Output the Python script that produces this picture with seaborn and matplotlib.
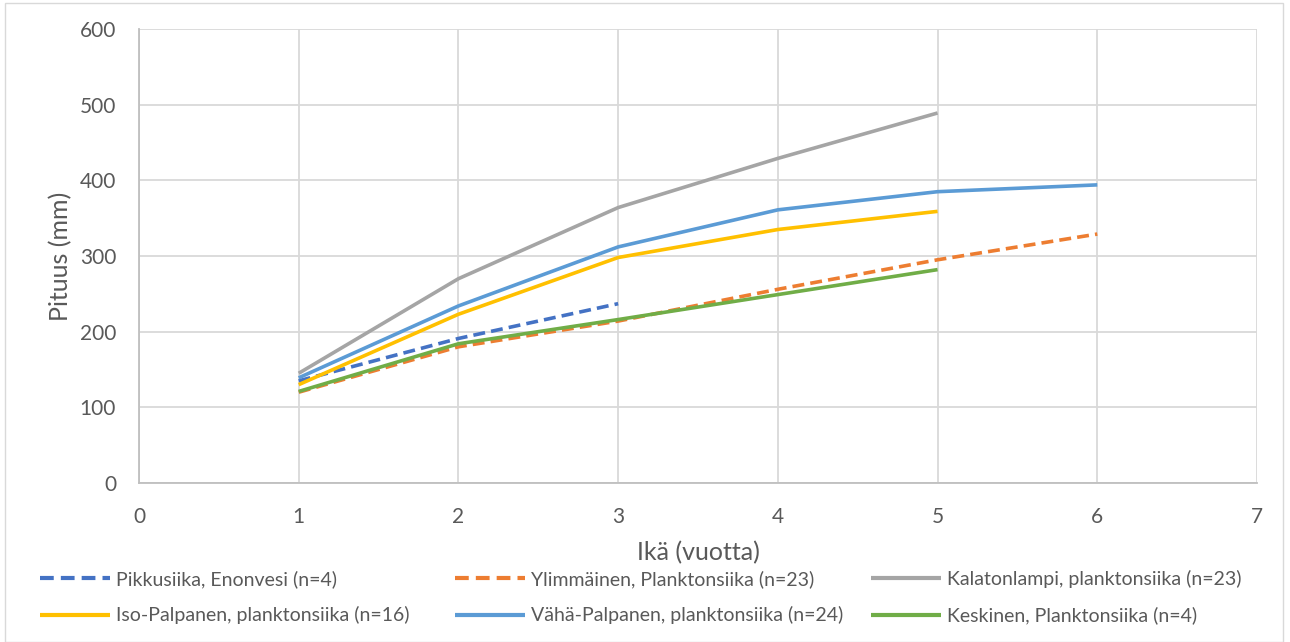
import matplotlib
matplotlib.use("Agg")
import matplotlib.pyplot as plt
import seaborn as sns
import pandas as pd
from matplotlib.patches import Rectangle

# Growth data: mean length (mm) by age (years)
series_names = [
    "Pikkusiika, Enonvesi (n=4)",
    "Ylimmäinen, Planktonsiika (n=23)",
    "Kalatonlampi, planktonsiika (n=23)",
    "Iso-Palpanen, planktonsiika (n=16)",
    "Vähä-Palpanen, planktonsiika (n=24)",
    "Keskinen, Planktonsiika (n=4)",
]
pikkusiika_age = [1, 2, 3]
pikkusiika_len = [135, 191, 237]
ylimmainen_age = [1, 2, 3, 4, 5, 6]
ylimmainen_len = [120, 180, 214, 256, 295, 329]
kalatonlampi_age = [1, 2, 3, 4, 5]
kalatonlampi_len = [145, 270, 364, 429, 489]
isopalpanen_age = [1, 2, 3, 4, 5]
isopalpanen_len = [130, 223, 298, 335, 359]
vahapalpanen_age = [1, 2, 3, 4, 5, 6]
vahapalpanen_len = [139, 234, 312, 361, 385, 394]
keskinen_age = [1, 2, 3, 4, 5]
keskinen_len = [121, 184, 216, 249, 282]

ages = [pikkusiika_age, ylimmainen_age, kalatonlampi_age,
        isopalpanen_age, vahapalpanen_age, keskinen_age]
lengths = [pikkusiika_len, ylimmainen_len, kalatonlampi_len,
           isopalpanen_len, vahapalpanen_len, keskinen_len]

colors = ["#4472C4", "#ED7D31", "#A5A5A5", "#FFC000", "#5B9BD5", "#70AD47"]
dashed = [True, True, False, False, False, False]

sns.set_theme(style="white")
plt.rcParams["font.family"] = ["Lato", "DejaVu Sans"]

W, H = 1290, 642
fig = plt.figure(figsize=(W / 100, H / 100), dpi=100)
ax = fig.add_axes([139 / W, 1 - 483 / H, (1257 - 139) / W, (483 - 29) / H])

handles = []
for name, x, y, c, d in zip(series_names, ages, lengths, colors, dashed):
    df = pd.DataFrame({"age": x, "length": y})
    sns.lineplot(data=df, x="age", y="length", ax=ax, color=c, linewidth=2.6,
                 label=name, legend=False)
    line = ax.lines[-1]
    if d:
        line.set_dashes((3.3, 1.7))
    line.set_solid_capstyle("butt")
    handles.append(line)

ax.set_xlim(0, 7)
ax.set_ylim(0, 600)
ax.set_xticks(range(0, 8))
ax.set_yticks(range(0, 601, 100))
ax.grid(True, color="#D9D9D9", linewidth=1.3)
ax.set_axisbelow(True)
for side in ["right", "top"]:
    ax.spines[side].set_visible(False)
for side in ["left", "bottom"]:
    ax.spines[side].set_color("#BFBFBF")
    ax.spines[side].set_linewidth(1.3)
ax.tick_params(axis="both", length=0, labelsize=15, colors="#595959")
ax.tick_params(axis="x", pad=17)
ax.tick_params(axis="y", pad=16.5)
ax.set_xlabel("Ikä (vuotta)", fontsize=18, color="#595959")
ax.set_ylabel("Pituus (mm)", fontsize=18, color="#595959")
ax.xaxis.set_label_coords(0.5, (483 - 541) / 454)
ax.yaxis.set_label_coords((72 - 139) / 1118, 0.5)

# Legend in three columns below the plot
col_x = [40 / W, 455 / W, 871 / W]
for i, cx in enumerate(col_x):
    hs = [handles[i], handles[i + 3]]
    ls = [series_names[i], series_names[i + 3]]
    leg = fig.legend(hs, ls, loc="upper left", bbox_to_anchor=(cx, 1 - 570 / H),
                     frameon=False, fontsize=14, handlelength=3.6, handletextpad=0.3,
                     labelspacing=0.95, borderaxespad=0, borderpad=0)
    for t in leg.get_texts():
        t.set_color("#595959")
    for ln in leg.get_lines():
        ln.set_linewidth(3)

# Chart area border
fig.patches.append(Rectangle((5 / W, 0), (1283 - 5) / W, 1 - 3 / H,
                             transform=fig.transFigure, fill=False,
                             edgecolor="#D9D9D9", linewidth=1))

fig.savefig("out.png", dpi=100)
